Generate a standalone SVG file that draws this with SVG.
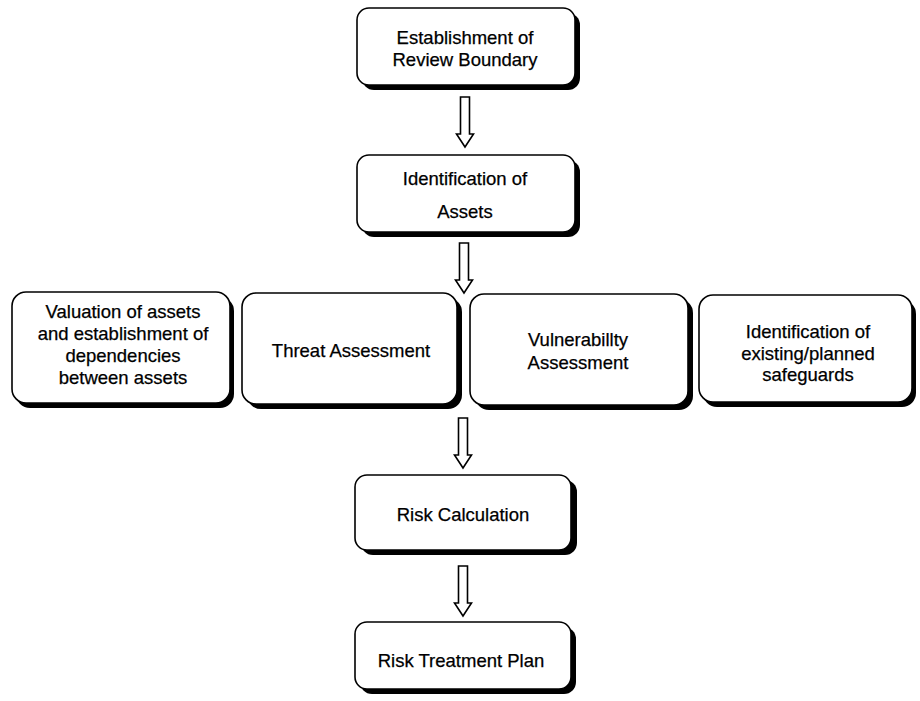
<svg xmlns="http://www.w3.org/2000/svg" width="920" height="701" viewBox="0 0 920 701">
  <style>
    .box { fill: #ffffff; stroke: #000000; stroke-width: 1.6; }
    .shadow { fill: #000000; }
    .label { font-family: "Liberation Sans", Arial, sans-serif; font-size: 18.5px; fill: #000000; text-anchor: middle; stroke: #000000; stroke-width: 0.25; }
    .arrow { fill: #ffffff; stroke: #000000; stroke-width: 1.6; stroke-linejoin: miter; }
  </style>
  <defs>
    <!-- hollow block arrow pointing down, origin at top centre of shaft -->
    <path id="downArrow" d="M -4.5 0 L 4.5 0 L 4.5 37 L 8.5 37 L 0 50 L -8.5 37 L -4.5 37 Z"/>
  </defs>
  <rect width="920" height="701" fill="#ffffff"/>

  <g id="connectors">
    <use href="#downArrow" class="arrow" x="465" y="97"/>
    <use href="#downArrow" class="arrow" x="464" y="243"/>
    <use href="#downArrow" class="arrow" x="463" y="418"/>
    <use href="#downArrow" class="arrow" x="463" y="566"/>
  </g>

  <g id="review-boundary">
    <rect class="shadow" x="362" y="13" width="218" height="77" rx="12"/>
    <rect class="box" x="357" y="8" width="218" height="77" rx="12"/>
    <text class="label" x="465" y="44">Establishment of</text>
    <text class="label" x="465" y="66">Review Boundary</text>
  </g>

  <g id="identification-assets">
    <rect class="shadow" x="362" y="160" width="218" height="77" rx="12"/>
    <rect class="box" x="357" y="155" width="218" height="77" rx="12"/>
    <text class="label" x="465" y="185">Identification of</text>
    <text class="label" x="465" y="218">Assets</text>
  </g>

  <g id="valuation">
    <rect class="shadow" x="16" y="297" width="218" height="111" rx="14"/>
    <rect class="box" x="12" y="292" width="218" height="111" rx="14"/>
    <text class="label" x="123" y="318">Valuation of assets</text>
    <text class="label" x="123" y="340">and establishment of</text>
    <text class="label" x="123" y="362">dependencies</text>
    <text class="label" x="123" y="384">between assets</text>
  </g>

  <g id="threat-assessment">
    <rect class="shadow" x="247" y="298" width="215" height="111" rx="14"/>
    <rect class="box" x="242" y="293" width="215" height="111" rx="14"/>
    <text class="label" x="351" y="357">Threat Assessment</text>
  </g>

  <g id="vulnerability-assessment">
    <rect class="shadow" x="475" y="299" width="218" height="111" rx="14"/>
    <rect class="box" x="470" y="294" width="218" height="111" rx="14"/>
    <text class="label" x="578" y="346">Vulnerabillty</text>
    <text class="label" x="578" y="369">Assessment</text>
  </g>

  <g id="safeguards">
    <rect class="shadow" x="703" y="300" width="213" height="107" rx="14"/>
    <rect class="box" x="699" y="295" width="213" height="107" rx="14"/>
    <text class="label" x="808" y="338">Identification of</text>
    <text class="label" x="808" y="360">existing/planned</text>
    <text class="label" x="808" y="381">safeguards</text>
  </g>

  <g id="risk-calculation">
    <rect class="shadow" x="361" y="480" width="216" height="75" rx="12"/>
    <rect class="box" x="355" y="475" width="216" height="75" rx="12"/>
    <text class="label" x="463" y="521">Risk Calculation</text>
  </g>

  <g id="risk-treatment-plan">
    <rect class="shadow" x="360" y="627" width="216" height="67" rx="12"/>
    <rect class="box" x="355" y="622" width="216" height="67" rx="12"/>
    <text class="label" x="461" y="667">Risk Treatment Plan</text>
  </g>
</svg>
